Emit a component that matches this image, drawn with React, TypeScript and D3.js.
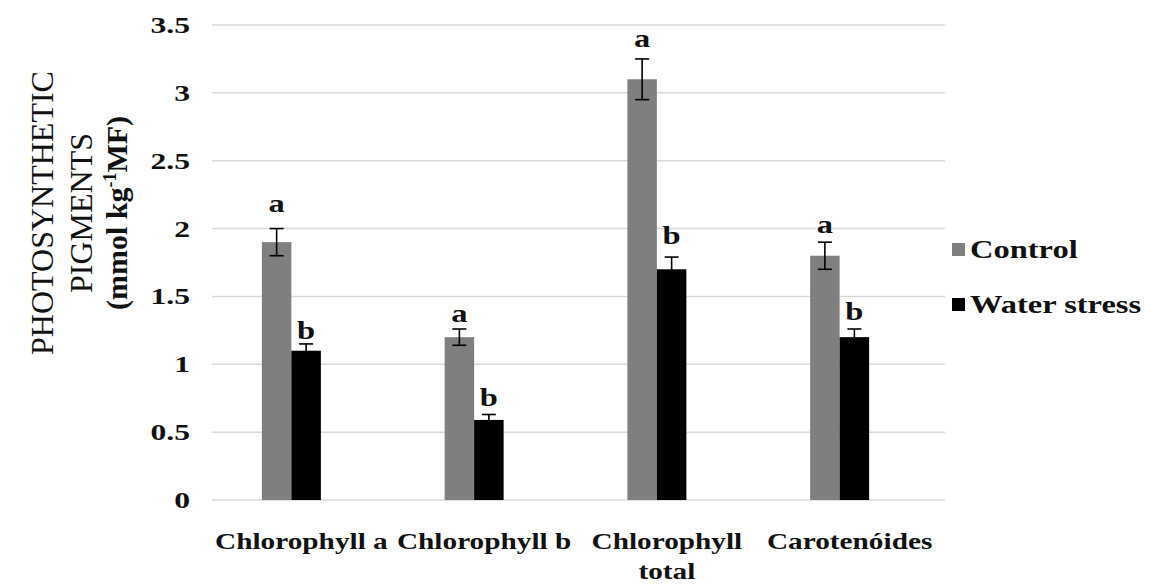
import React from "react";
import * as d3 from "d3";

const categories = ["Chlorophyll a", "Chlorophyll b", "Chlorophyll total", "Carotenóides"];
const categoryLines = [["Chlorophyll a"], ["Chlorophyll b"], ["Chlorophyll", "total"], ["Carotenóides"]];
const seriesNames = ["Control", "Water stress"];
const seriesColors = ["#7f7f7f", "#000000"];
const controlValues = [1.9, 1.2, 3.1, 1.8];
const waterValues = [1.1, 0.59, 1.7, 1.2];
const controlErrors = [0.1, 0.06, 0.15, 0.1];
const waterErrors = [0.05, 0.04, 0.09, 0.06];
const controlLetters = ["a", "a", "a", "a"];
const waterLetters = ["b", "b", "b", "b"];
const controlLetterAt = [2.12, 1.31, 3.34, 1.97];
const waterLetterAt = [1.19, 0.69, 1.89, 1.33];
const yTicks = [0, 0.5, 1, 1.5, 2, 2.5, 3, 3.5];
const yTitle = ["PHOTOSYNTHETIC", "PIGMENTS"];

const W = 1151;
const H = 584;
const FONT = "Liberation Serif";

function WideText({ x, y, sx = 1.25, anchor = "start", size, bold = true, children }: any) {
  return (
    <text
      transform={`translate(${x},${y}) scale(${sx},1)`}
      textAnchor={anchor}
      fontFamily={FONT}
      fontWeight={bold ? "bold" : "normal"}
      fontSize={size}
      fill="#111"
    >
      {children}
    </text>
  );
}

export default function App() {
  const y = d3.scaleLinear().domain([0, 3.5]).range([500, 25]);
  const x = d3.scaleBand().domain(categories).range([200, 931]).paddingInner(0).paddingOuter(0);
  const barW = 29.5;
  const series = [
    { vals: controlValues, errs: controlErrors, letters: controlLetters, letterAt: controlLetterAt },
    { vals: waterValues, errs: waterErrors, letters: waterLetters, letterAt: waterLetterAt },
  ];

  return (
    <svg width={W} height={H} style={{ position: "absolute", left: 0, top: 0, background: "#fff" }}>
      {yTicks.map((t) => (
        <g key={t}>
          <line x1={212} x2={945} y1={y(t)} y2={y(t)} stroke="#d9d9d9" strokeWidth={1.5} />
          <WideText x={190} y={y(t) + 8} anchor="end" size={24} sx={1.32}>
            {d3.format("")(t)}
          </WideText>
        </g>
      ))}
      {categories.map((c, i) => {
        const cx = (x(c) as number) + x.bandwidth() / 2;
        return (
          <g key={c}>
            {series.map((s, k) => {
              const bx = cx - barW + k * barW;
              const mid = bx + barW / 2;
              const v = s.vals[i];
              const e = s.errs[i];
              return (
                <g key={k}>
                  <rect x={bx} y={y(v)} width={barW} height={y(0) - y(v)} fill={seriesColors[k]} />
                  <line x1={mid} x2={mid} y1={y(v + e)} y2={y(v - e)} stroke="#000" strokeWidth={1.6} />
                  <line x1={mid - 7} x2={mid + 7} y1={y(v + e)} y2={y(v + e)} stroke="#000" strokeWidth={1.6} />
                  <line x1={mid - 7} x2={mid + 7} y1={y(v - e)} y2={y(v - e)} stroke="#000" strokeWidth={1.6} />
                  <WideText x={mid} y={y(s.letterAt[i])} anchor="middle" size={26} sx={1.25}>
                    {s.letters[i]}
                  </WideText>
                </g>
              );
            })}
            {categoryLines[i].map((ln, j) => (
              <WideText key={j} x={cx + 10} y={549 + j * 30} anchor="middle" size={24} sx={1.22}>
                {ln}
              </WideText>
            ))}
          </g>
        );
      })}
      {seriesNames.map((n, k) => (
        <g key={n}>
          <rect x={952} y={243 + k * 55} width={13} height={13} fill={seriesColors[k]} />
          <WideText x={970} y={258 + k * 55} size={25} sx={1.3}>
            {n}
          </WideText>
        </g>
      ))}
      <g transform="translate(0,213) rotate(-90)">
        {yTitle.map((t, j) => (
          <text key={j} x={0} y={53 + j * 39} textAnchor="middle" fontFamily={FONT} fontSize={32} fill="#111">
            {t}
          </text>
        ))}
        <text x={0} y={127} textAnchor="middle" fontFamily={FONT} fontWeight="bold" fontSize={30} fill="#111">
          (mmol kg<tspan dy={-11} fontSize={18}>-1</tspan><tspan dy={11}>MF)</tspan>
        </text>
      </g>
    </svg>
  );
}
